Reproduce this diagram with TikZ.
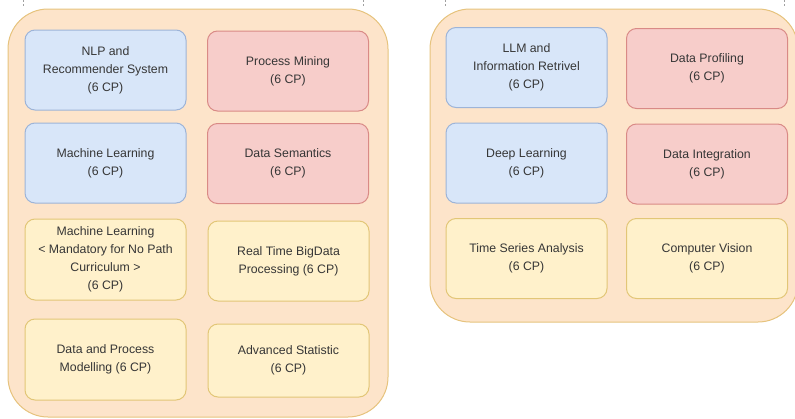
\documentclass[tikz,border=0pt]{standalone}
\usepackage{fontspec}
\setmainfont{Liberation Sans}
\usepackage{tikz}
\usetikzlibrary{positioning,backgrounds}

\definecolor{semfill}{HTML}{FDE4CA}
\definecolor{semdraw}{HTML}{E6C37D}
\definecolor{bluefill}{HTML}{D8E6F9}
\definecolor{bluedraw}{HTML}{9DB4D8}
\definecolor{redfill}{HTML}{F7CDCA}
\definecolor{reddraw}{HTML}{D98A86}
\definecolor{yelfill}{HTML}{FFF1CB}
\definecolor{yeldraw}{HTML}{E2C677}
\definecolor{txt}{HTML}{363636}
\definecolor{tick}{HTML}{A0A0A0}

\begin{document}
\begin{tikzpicture}[x=1pt,y=-1pt,
  semester/.style={draw=semdraw,fill=semfill,line width=1pt,rounded corners=40pt},
  course/.style={rounded corners=10pt,line width=1pt,minimum width=161pt,minimum height=80pt,
    align=center,text=txt,inner sep=2pt,font=\fontsize{12.3}{18}\selectfont},
  blue/.style={course,draw=bluedraw,fill=bluefill},
  red/.style={course,draw=reddraw,fill=redfill},
  yel/.style={course,draw=yeldraw,fill=yelfill}]
\useasboundingbox (0,0) rectangle (795,418);
\begin{scope}
\clip (0,0) rectangle (795,418);
% the two semesters
\draw[semester] (8,9) rectangle (388,417);
\draw[semester] (430,9) rectangle (798,322);
\end{scope}
% little dashed ends at the top
\foreach \x in {23,363,445,784}
  \draw[tick,dash pattern=on 2pt off 2pt,line width=1pt] (\x,0) -- (\x,7);
% left semester
\node[blue] (nlp) at (105.5,70) {NLP and\\Recommender System\\(6 CP)};
\node[red] (pm) at (288,71) {Process Mining\\(6 CP)};
\node[blue] (ml) at (105.5,163) {Machine Learning\\(6 CP)};
\node[red] (ds) at (288,163.5) {Data Semantics\\(6 CP)};
\node[yel,minimum height=81pt] (mlm) at (105.5,259.5) {Machine Learning\\< Mandatory for No Path\\Curriculum >\\(6 CP)};
\node[yel] (rtbd) at (288.5,261) {Real Time BigData\\Processing (6 CP)};
\node[yel,minimum height=81pt] (dpm) at (105.5,359.5) {Data and Process\\Modelling (6 CP)};
\node[yel,minimum height=73pt] (advst) at (288.5,360.5) {Advanced Statistic\\(6 CP)};
% right semester
\node[blue] (llm) at (526.5,67.5) {LLM and\\Information Retrivel\\(6 CP)};
\node[red] (dprof) at (707,68.5) {Data Profiling\\(6 CP)};
\node[blue] (dl) at (526.5,163) {Deep Learning\\(6 CP)};
\node[red] (dint) at (707,164) {Data Integration\\(6 CP)};
\node[yel] (tsa) at (526.5,258.5) {Time Series Analysis\\(6 CP)};
\node[yel] (cv) at (707,258.5) {Computer Vision\\(6 CP)};
\end{tikzpicture}
\end{document}
